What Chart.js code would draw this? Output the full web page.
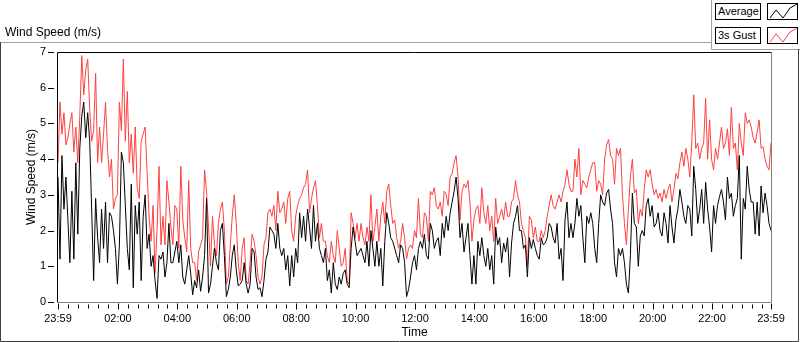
<!DOCTYPE html>
<html><head><meta charset="utf-8">
<script src="https://cdn.jsdelivr.net/npm/chart.js@4.4.1/dist/chart.umd.min.js"></script>
<style>
html,body{margin:0;padding:0;background:#fff;}
#wrap{position:relative;width:800px;height:342px;overflow:hidden;font-family:"Liberation Sans",Arial,sans-serif;}
#c{position:absolute;left:0;top:0;}
.t{position:absolute;white-space:nowrap;color:#000;}
.box{position:absolute;box-sizing:border-box;border:1px solid #000;background:#fff;}
</style></head><body>
<div id="wrap">
<canvas id="c" width="800" height="342"></canvas>
<div class="t" style="left:5px;top:25px;font-size:12px;line-height:14px;">Wind Speed (m/s)</div>
<div class="box t" style="left:715px;top:3px;width:46px;height:17px;font-size:11px;line-height:15px;padding-left:2px">Average</div>
<div class="box" style="left:767px;top:3px;width:31px;height:17px"><svg width="29" height="15" style="position:absolute;left:0;top:0"><polyline points="2,14 8,6 15,14 22,4 29,0" fill="none" stroke="#000" stroke-width="1"/></svg></div>
<div class="box t" style="left:715px;top:27px;width:46px;height:17px;font-size:11px;line-height:15px;padding-left:2px">3s Gust</div>
<div class="box" style="left:767px;top:27px;width:31px;height:17px"><svg width="29" height="15" style="position:absolute;left:0;top:0"><polyline points="2,14 8,6 15,14 22,4 29,0" fill="none" stroke="#ff4040" stroke-width="1"/></svg></div>
</div>
<script>
// sample interval in minutes, starting at 23:59
const STEP_MIN = 4;
const seriesNames = ['Average', '3s Gust'];
const average = [
3.5,1.2,4.1,2.6,3.5,2.3,1.1,3.1,1.2,3.9,1.9,4.3,5.2,5.6,4.6,5.3,4.5,2.6,0.6,2.9,
1.8,1.1,2.6,1.5,2.8,1.1,2.5,2.4,2.0,1.5,0.5,1.6,4.2,3.9,2.7,1.5,0.9,3.3,0.4,2.7,
1.9,2.8,0.6,2.4,3.0,1.5,1.9,1.0,1.3,0.6,0.1,1.3,1.2,1.4,0.7,1.1,2.2,1.1,1.1,1.4,
1.7,1.1,1.6,0.7,0.5,0.9,1.3,0.8,0.2,0.6,0.4,0.9,0.3,
0.7,1.3,2.9,0.25,0.5,1.0,1.5,1.1,0.9,2.0,2.2,1.3,0.15,0.35,0.7,1.3,1.6,0.9,0.45,0.5,
0.6,1.1,0.5,0.25,0.5,1.5,1.4,0.7,0.35,0.4,0.15,0.6,1.2,1.4,2.1,2.0,1.9,1.5,2.2,1.5,
1.3,1.5,0.9,1.3,0.45,1.3,0.7,1.5,1.1,2.5,1.8,2.4,1.7,2.6,2.1,1.5,2.7,1.7,2.2,1.5,
1.3,1.1,1.5,0.6,0.9,0.25,1.1,0.5,0.35,0.7,0.5,0.8,0.9,
0.5,0.4,1.5,2.1,1.7,1.3,1.4,1.5,1.3,1.1,1.7,1.0,2.0,1.5,1.0,1.7,1.0,1.5,0.45,1.7,
2.5,2.2,1.8,1.7,1.5,1.3,1.1,1.6,1.5,1.1,0.15,0.35,0.7,1.1,1.3,0.9,1.5,1.7,1.5,1.9,
1.3,1.2,2.2,2.0,1.5,1.7,1.8,1.3,2.2,1.8,2.4,2.0,2.5,2.8,3.1,3.5,2.9,1.8,2.2,1.4,
1.8,2.2,1.3,0.5,1.3,0.5,1.7,1.3,1.8,1.3,1.0,1.5,
0.9,1.3,0.5,2.1,1.6,1.8,1.1,1.65,1.4,1.8,0.7,1.65,2.2,2.4,2.7,2.0,2.0,1.5,1.6,0.7,
1.8,1.5,1.75,1.5,1.3,1.2,1.8,1.6,1.65,1.8,2.2,2.1,1.8,1.65,2.2,1.2,1.5,0.6,2.3,2.8,
1.8,2.2,1.8,2.2,2.9,2.4,2.7,1.8,1.1,2.4,2.2,2.5,2.2,1.5,1.1,2.2,3.0,2.8,2.7,3.05,
3.15,2.6,2.2,1.1,0.7,1.5,1.3,1.5,1.1,0.5,0.25,1.3,3.05,
2.2,2.1,1.0,1.85,2.0,1.85,2.7,2.9,2.4,2.7,2.1,2.2,2.5,2.0,1.85,2.5,2.2,1.65,2.7,2.1,
1.65,2.3,2.6,3.15,2.8,2.4,2.2,2.7,2.6,1.85,3.8,3.15,2.2,2.6,3.15,2.2,3.35,2.6,2.1,1.4,
2.7,2.2,2.7,2.95,3.15,2.8,2.3,3.5,2.9,3.05,2.4,2.7,2.9,4.1,1.2,2.9,2.6,3.8,3.15,2.8,
2.8,1.9,2.8,1.85,3.25,2.5,3.05,2.7,2.2,2.0
];
const gust = [
3.9,5.6,4.7,5.3,4.4,4.6,5.0,5.3,4.2,4.9,3.9,5.2,6.9,5.8,6.5,6.8,5.4,4.5,4.8,6.4,
3.9,4.9,3.9,4.7,5.6,4.3,3.5,4.0,2.6,2.9,3.0,5.6,4.8,6.8,4.5,5.9,3.9,4.7,3.6,4.9,
3.2,2.9,4.5,4.7,4.9,3.6,2.4,1.7,2.7,0.8,2.0,3.8,1.6,2.4,1.6,3.4,2.8,2.1,1.6,2.7,
2.6,1.5,3.8,2.3,1.8,1.4,3.4,1.5,1.1,1.1,0.6,1.4,1.6,
1.8,3.7,3.1,2.1,1.0,2.4,1.6,1.3,2.2,2.6,2.8,2.0,0.5,0.7,1.6,2.4,3.0,2.2,1.1,0.6,
1.5,1.8,0.6,0.5,1.1,1.9,1.7,1.3,0.7,0.5,0.7,1.6,1.8,2.5,2.6,2.4,2.7,2.0,3.1,2.5,
2.6,2.8,2.2,2.9,3.1,2.0,1.7,2.4,2.7,2.9,3.0,3.2,3.3,3.7,2.5,2.9,3.2,3.4,2.7,1.8,
2.2,1.7,1.7,1.3,1.1,1.7,1.3,1.1,2.0,1.5,1.0,1.1,1.5,
0.6,0.5,2.5,2.2,1.8,2.2,1.7,2.2,1.8,1.6,2.1,1.7,3.0,1.7,2.1,2.6,1.7,2.4,2.8,2.2,
3.1,3.3,2.7,2.2,2.3,1.8,1.5,1.7,2.2,1.8,1.2,1.5,1.6,1.5,2.0,1.8,2.9,1.9,1.8,2.5,
2.4,1.7,3.1,3.0,3.2,2.7,2.6,2.8,2.4,3.1,3.0,2.7,3.5,3.6,3.9,4.1,3.5,2.3,3.1,3.3,
3.2,3.4,2.8,1.7,2.3,2.6,2.7,2.2,3.2,2.5,2.2,2.7,
2.0,2.4,1.7,2.9,2.2,2.4,2.6,2.3,2.8,2.4,2.4,2.8,2.9,3.4,3.0,2.8,2.2,2.0,1.8,1.0,
2.4,2.3,1.8,2.1,1.7,1.7,2.0,1.8,2.0,2.4,2.7,3.0,2.7,2.6,2.8,3.0,2.8,3.1,3.3,3.7,
3.3,3.1,3.1,4.0,3.5,4.3,3.0,3.4,3.3,3.2,3.5,3.7,3.9,3.9,3.1,3.4,3.3,3.0,4.0,4.4,
4.55,4.1,4.0,3.3,4.3,4.1,4.3,3.0,2.2,1.6,2.6,3.5,4.0,
3.05,3.15,2.2,2.6,2.4,3.15,3.7,3.5,3.7,3.3,3.0,3.15,2.9,3.05,2.8,3.15,2.9,3.15,3.3,2.8,
3.15,3.6,3.45,3.9,4.2,3.8,4.3,4.0,3.5,4.45,5.8,4.3,4.45,4.0,4.3,4.45,5.7,4.0,5.1,4.0,
3.7,4.3,4.0,4.45,4.9,4.3,4.45,4.85,4.1,5.45,4.3,4.45,3.7,5.0,4.45,4.1,5.3,5.0,5.1,4.9,
4.6,4.45,4.75,5.1,4.3,4.35,4.0,3.8,3.7,4.45
];
// x tick positions (minutes after 23:59) and their labels
const timeTicks = [0,121,241,361,481,601,721,841,961,1081,1201,1321,1440];
const timeLabels = ['23:59','02:00','04:00','06:00','08:00','10:00','12:00','14:00','16:00','18:00','20:00','22:00','23:59'];
const yTicks = [0,1,2,3,4,5,6,7];

const FONT = '"Liberation Sans", Arial, sans-serif';
const toPts = arr => arr.map((v,i)=>({x:i*STEP_MIN, y:v}));

const framePlugin = {
  id:'frame',
  beforeDraw(chart){
    const ctx = chart.ctx;
    ctx.save();
    ctx.lineWidth = 1;
    ctx.strokeStyle = '#a0a0a0';
    ctx.beginPath();
    ctx.moveTo(0,42.5); ctx.lineTo(712,42.5);
    ctx.moveTo(711.5,0); ctx.lineTo(711.5,49.5); ctx.lineTo(800,49.5);
    ctx.stroke();
    ctx.strokeStyle = '#404040';
    ctx.beginPath();
    ctx.moveTo(0.5,42); ctx.lineTo(0.5,341.5); ctx.lineTo(798.5,341.5); ctx.lineTo(798.5,49);
    ctx.stroke();
    ctx.restore();
  },
  afterDraw(chart){
    const ctx = chart.ctx, a = chart.chartArea;
    const xs = chart.scales.x, ys = chart.scales.y;
    ctx.save();
    ctx.lineWidth = 1;
    const L = Math.round(a.left)-0.5, R = Math.round(a.right)+0.5, T = Math.round(a.top)+0.5, B = Math.round(a.bottom)+0.5;
    ctx.strokeStyle = '#000';
    ctx.beginPath();
    ctx.moveTo(L,B); ctx.lineTo(L,T); ctx.lineTo(R,T);
    ctx.stroke();
    ctx.strokeStyle = '#808080';
    ctx.beginPath();
    ctx.moveTo(R,T); ctx.lineTo(R,B); ctx.lineTo(L,B);
    ctx.stroke();
    // y tick marks
    ctx.strokeStyle = '#000';
    ctx.beginPath();
    yTicks.forEach(v=>{
      const y = Math.round(ys.getPixelForValue(v))+0.5;
      ctx.moveTo(48,y); ctx.lineTo(54,y);
    });
    // x tick marks: minor every 20 minutes, major at labels
    for (let m=1; m<1440; m+=20){
      const x = Math.round(xs.getPixelForValue(m))+0.5;
      ctx.moveTo(x,B+2); ctx.lineTo(x,B+6);
    }
    timeTicks.forEach(v=>{
      const x = Math.round(xs.getPixelForValue(v))+0.5;
      ctx.moveTo(x,B+1); ctx.lineTo(x,B+7);
    });
    ctx.stroke();
    ctx.restore();
  }
};

new Chart(document.getElementById('c'), {
  type:'line',
  data:{
    datasets:[
      {label:seriesNames[0], data:toPts(average), borderColor:'#000000', borderWidth:1, pointRadius:0, tension:0, fill:false},
      {label:seriesNames[1], data:toPts(gust), borderColor:'#ff4040', borderWidth:1, pointRadius:0, tension:0, fill:false}
    ]
  },
  options:{
    responsive:false, animation:false, devicePixelRatio:1,
    layout:{padding:{left:0, top:52, right:29, bottom:0}},
    plugins:{legend:{display:false}, tooltip:{enabled:false}, title:{display:false}},
    scales:{
      x:{type:'linear', min:0, max:1440,
        afterBuildTicks:s=>{ s.ticks = timeTicks.map(v=>({value:v})); },
        afterFit:s=>{ s.height = 40; },
        grid:{display:false, drawTicks:false}, border:{display:false},
        ticks:{autoSkip:false, maxRotation:0, padding:10, color:'#000', font:{family:FONT, size:11},
          callback:(v,i)=>timeLabels[i]},
        title:{display:true, text:'Time', color:'#000', font:{family:FONT, size:12}, padding:{top:0, bottom:2}}
      },
      y:{min:0, max:7,
        afterBuildTicks:s=>{ s.ticks = yTicks.map(v=>({value:v})); },
        afterFit:s=>{ s.width = 58; },
        grid:{display:false, drawTicks:false}, border:{display:false},
        ticks:{padding:12, color:'#000', font:{family:FONT, size:11}},
        title:{display:true, text:'Wind Speed (m/s)', color:'#000', font:{family:FONT, size:12}, padding:{top:24, bottom:0}}
      }
    }
  },
  plugins:[framePlugin]
});
</script>
</body></html>
